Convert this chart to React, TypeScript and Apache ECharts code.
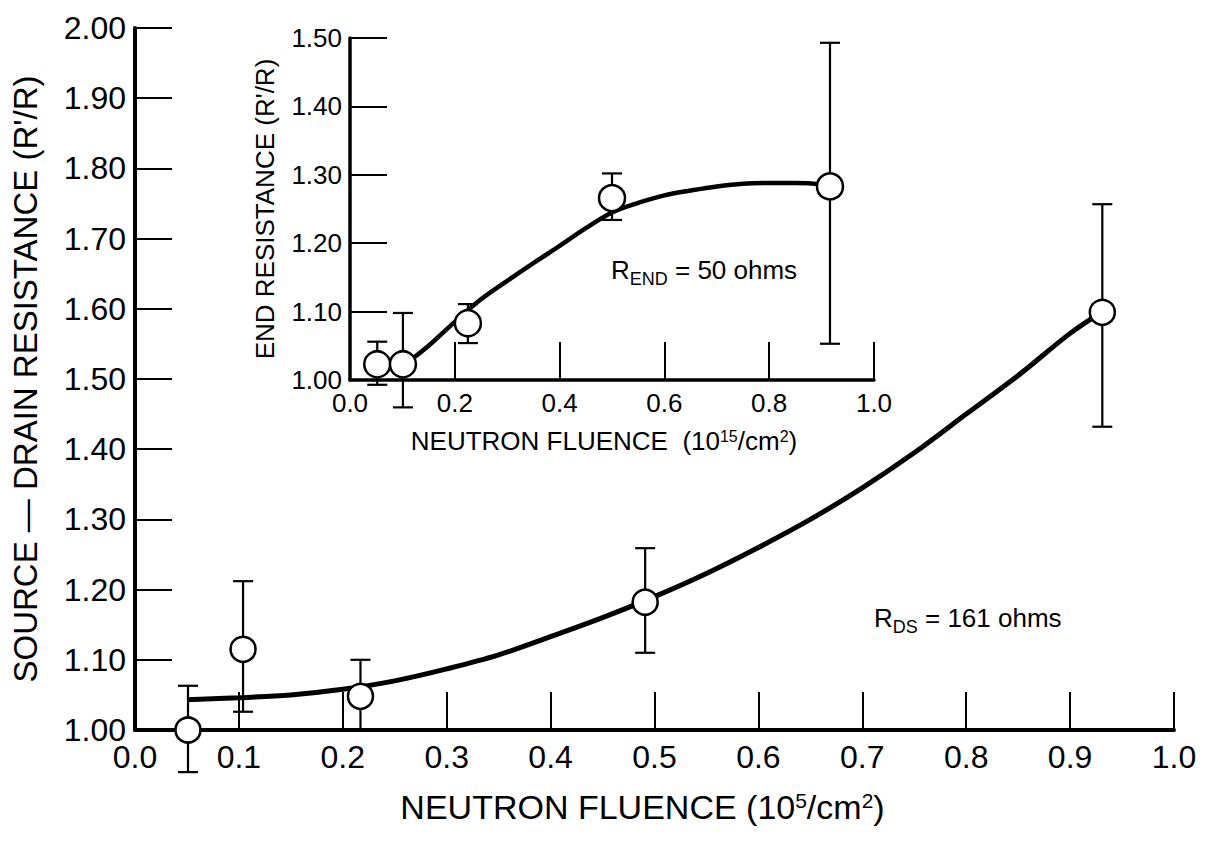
import React, { useEffect, useRef } from "react";
import * as echarts from "echarts";

// ---- data ----
const mainX = [0.051, 0.104, 0.217, 0.491, 0.931];
const mainY = [1.0, 1.115, 1.048, 1.182, 1.595];
const mainErrLow = [0.94, 1.026, 1.0, 1.11, 1.432];
const mainErrHigh = [1.063, 1.212, 1.1, 1.259, 1.749];
const mainFitX = [0.05, 0.1, 0.15, 0.2, 0.25, 0.3, 0.35, 0.4, 0.45, 0.5, 0.55, 0.6, 0.65, 0.7, 0.75, 0.8, 0.85, 0.9, 0.93];
const mainFitY = [1.043, 1.046, 1.05, 1.058, 1.07, 1.087, 1.107, 1.133, 1.16, 1.19, 1.223, 1.26, 1.3, 1.345, 1.395, 1.45, 1.505, 1.565, 1.595];

const insetX = [0.052, 0.101, 0.225, 0.5, 0.916];
const insetY = [1.023, 1.023, 1.083, 1.266, 1.283];
const insetErrLow = [0.993, 0.96, 1.054, 1.234, 1.053];
const insetErrHigh = [1.056, 1.098, 1.111, 1.302, 1.493];
const insetFitX = [0.1, 0.15, 0.2, 0.25, 0.3, 0.35, 0.4, 0.45, 0.5, 0.55, 0.6, 0.65, 0.7, 0.75, 0.8, 0.85, 0.9, 0.916];
const insetFitY = [1.02, 1.05, 1.085, 1.118, 1.145, 1.171, 1.196, 1.222, 1.245, 1.259, 1.27, 1.277, 1.283, 1.287, 1.288, 1.288, 1.286, 1.283];

const mainYLabel = "SOURCE — DRAIN RESISTANCE (R'/R)";
const insetYLabel = "END RESISTANCE (R'/R)";
const mainXLabel = "NEUTRON FLUENCE (10{sup|5}/cm{sup|2})";
const insetXLabel = "NEUTRON FLUENCE  (10{sup|15}/cm{sup|2})";
const rdsNote = "{r|R}{sub|DS}{r| = 161 ohms}";
const rendNote = "{r|R}{sub|END}{r| = 50 ohms}";

const FONT = "'Liberation Sans', Arial, sans-serif";
const INK = "#000";

const errRender = (capHalf: number) => (params: any, api: any) => {
  const x = api.value(0);
  const lo = api.coord([x, api.value(1)]);
  const hi = api.coord([x, api.value(2)]);
  const style = { stroke: INK, lineWidth: 2.2 };
  return {
    type: "group",
    children: [
      { type: "line", shape: { x1: lo[0], y1: lo[1], x2: hi[0], y2: hi[1] }, style },
      { type: "line", shape: { x1: lo[0] - capHalf, y1: lo[1], x2: lo[0] + capHalf, y2: lo[1] }, style },
      { type: "line", shape: { x1: hi[0] - capHalf, y1: hi[1], x2: hi[0] + capHalf, y2: hi[1] }, style },
    ],
  };
};

export default function App() {
  const ref = useRef<HTMLDivElement>(null);
  useEffect(() => {
    if (!ref.current) return;
    const chart = echarts.init(ref.current, null, { renderer: "svg" });
    const supRich = (size: number, pad: number) => ({
      sup: { fontSize: size, fontFamily: FONT, color: INK, verticalAlign: "top", padding: [0, 0, pad, 0] },
    });
    const noteRich = {
      r: { fontFamily: FONT, fontSize: 26, lineHeight: 36, verticalAlign: "middle", color: INK },
      sub: { fontFamily: FONT, fontSize: 18, lineHeight: 18, verticalAlign: "bottom", color: INK },
    };
    const option: any = {
      animation: false,
      backgroundColor: "#fff",
      grid: [
        { left: 135, right: 33, top: 28, bottom: 111 },
        { left: 350, right: 333, top: 38, bottom: 461 },
      ],
      xAxis: [
        {
          gridIndex: 0, type: "value", min: 0, max: 1, interval: 0.1,
          axisLine: { show: true, onZero: false, lineStyle: { color: INK, width: 4 } },
          axisTick: { show: true, inside: true, length: 38, lineStyle: { color: INK, width: 2 } },
          axisLabel: { fontFamily: FONT, fontSize: 32, color: INK, margin: 11, formatter: (v: number) => v.toFixed(1) },
          splitLine: { show: false },
          name: mainXLabel, nameLocation: "middle", nameGap: 60,
          nameTextStyle: { fontFamily: FONT, fontSize: 34, color: INK, padding: [0, 24, 0, 0], rich: supRich(21, 6) },
        },
        {
          gridIndex: 1, type: "value", min: 0, max: 1, interval: 0.2,
          axisLine: { show: true, onZero: false, lineStyle: { color: INK, width: 3.5 } },
          axisTick: { show: true, inside: true, length: 38, lineStyle: { color: INK, width: 2 } },
          axisLabel: { fontFamily: FONT, fontSize: 26, color: INK, margin: 10, formatter: (v: number) => v.toFixed(1) },
          splitLine: { show: false },
          name: insetXLabel, nameLocation: "middle", nameGap: 48,
          nameTextStyle: { fontFamily: FONT, fontSize: 26, color: INK, padding: [0, 16, 0, 0], rich: supRich(16, 5) },
        },
      ],
      yAxis: [
        {
          gridIndex: 0, type: "value", min: 1, max: 2, interval: 0.1,
          axisLine: { show: true, onZero: false, lineStyle: { color: INK, width: 4 } },
          axisTick: { show: true, inside: true, length: 37, lineStyle: { color: INK, width: 2 } },
          axisLabel: { fontFamily: FONT, fontSize: 32, color: INK, margin: 9, formatter: (v: number) => v.toFixed(2) },
          splitLine: { show: false },
          name: mainYLabel, nameLocation: "middle", nameGap: 93, nameRotate: 90,
          nameTextStyle: { fontFamily: FONT, fontSize: 33, color: INK },
        },
        {
          gridIndex: 1, type: "value", min: 1, max: 1.5, interval: 0.1,
          axisLine: { show: true, onZero: false, lineStyle: { color: INK, width: 3.5 } },
          axisTick: { show: true, inside: true, length: 37, lineStyle: { color: INK, width: 2 } },
          axisLabel: { fontFamily: FONT, fontSize: 26, color: INK, margin: 8, formatter: (v: number) => v.toFixed(2) },
          splitLine: { show: false },
          name: insetYLabel, nameLocation: "middle", nameGap: 72, nameRotate: 90,
          nameTextStyle: { fontFamily: FONT, fontSize: 26, color: INK },
        },
      ],
      series: [
        {
          type: "line", xAxisIndex: 0, yAxisIndex: 0, smooth: 0.35, showSymbol: false, z: 2,
          lineStyle: { color: INK, width: 5 },
          data: mainFitX.map((x, i) => [x, mainFitY[i]]),
        },
        {
          type: "custom", xAxisIndex: 0, yAxisIndex: 0, z: 3, clip: false,
          renderItem: errRender(10),
          encode: { x: 0, y: [1, 2] },
          data: mainX.map((x, i) => [x, mainErrLow[i], mainErrHigh[i]]),
        },
        {
          type: "scatter", xAxisIndex: 0, yAxisIndex: 0, z: 5, symbol: "circle", symbolSize: 25,
          itemStyle: { color: "#fff", borderColor: INK, borderWidth: 2.5, opacity: 1 },
          data: mainX.map((x, i) => [x, mainY[i]]),
        },
        {
          type: "line", xAxisIndex: 1, yAxisIndex: 1, smooth: 0.35, showSymbol: false, z: 2,
          lineStyle: { color: INK, width: 4.5 },
          data: insetFitX.map((x, i) => [x, insetFitY[i]]),
        },
        {
          type: "custom", xAxisIndex: 1, yAxisIndex: 1, z: 3, clip: false,
          renderItem: errRender(10),
          encode: { x: 0, y: [1, 2] },
          data: insetX.map((x, i) => [x, insetErrLow[i], insetErrHigh[i]]),
        },
        {
          type: "scatter", xAxisIndex: 1, yAxisIndex: 1, z: 5, symbol: "circle", symbolSize: 26,
          itemStyle: { color: "#fff", borderColor: INK, borderWidth: 2.5, opacity: 1 },
          data: insetX.map((x, i) => [x, insetY[i]]),
        },
      ],
      graphic: [
        { type: "text", left: 874, top: 605, style: { text: rdsNote, fill: INK, rich: noteRich } },
        { type: "text", left: 611, top: 257, style: { text: rendNote, fill: INK, rich: noteRich } },
      ],
    };
    chart.setOption(option);
    return () => chart.dispose();
  }, []);
  return (
    <div
      ref={ref}
      style={{ position: "fixed", left: 0, top: 0, width: 1207, height: 841, background: "#fff" }}
    />
  );
}
